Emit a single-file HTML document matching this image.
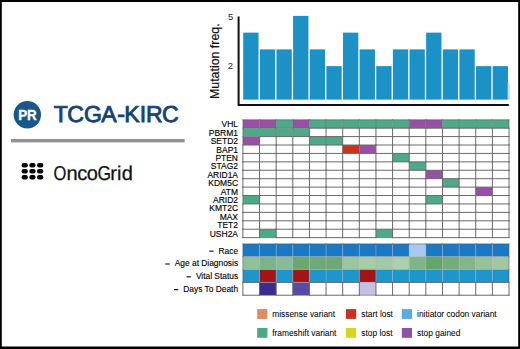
<!DOCTYPE html><html><head><meta charset="utf-8"><style>html,body{margin:0;padding:0;background:#fff;overflow:hidden}svg{display:block}text{font-family:"Liberation Sans",sans-serif}</style></head><body>
<svg width="520" height="349" viewBox="0 0 520 349">
<rect x="0" y="0" width="520" height="349" fill="#fff"/>
<rect x="243.20" y="32.64" width="15.33" height="66.96" fill="#1b91c6"/>
<rect x="259.83" y="49.38" width="15.33" height="50.22" fill="#1b91c6"/>
<rect x="276.46" y="49.38" width="15.33" height="50.22" fill="#1b91c6"/>
<rect x="293.09" y="15.90" width="15.33" height="83.70" fill="#1b91c6"/>
<rect x="309.73" y="49.38" width="15.33" height="50.22" fill="#1b91c6"/>
<rect x="326.36" y="66.12" width="15.33" height="33.48" fill="#1b91c6"/>
<rect x="342.99" y="32.64" width="15.33" height="66.96" fill="#1b91c6"/>
<rect x="359.62" y="49.38" width="15.33" height="50.22" fill="#1b91c6"/>
<rect x="376.25" y="66.12" width="15.33" height="33.48" fill="#1b91c6"/>
<rect x="392.88" y="49.38" width="15.33" height="50.22" fill="#1b91c6"/>
<rect x="409.51" y="49.38" width="15.33" height="50.22" fill="#1b91c6"/>
<rect x="426.14" y="32.64" width="15.33" height="66.96" fill="#1b91c6"/>
<rect x="442.78" y="49.38" width="15.33" height="50.22" fill="#1b91c6"/>
<rect x="459.41" y="49.38" width="15.33" height="50.22" fill="#1b91c6"/>
<rect x="476.04" y="66.12" width="15.33" height="33.48" fill="#1b91c6"/>
<rect x="492.67" y="66.12" width="15.33" height="33.48" fill="#1b91c6"/>
<rect x="507.60" y="82.86" width="2" height="16.74" fill="#b5dcee"/>
<path d="M238.6 16.5 V105 H508.8" fill="none" stroke="#111" stroke-width="2"/>
<text x="230.6" y="19.8" font-size="9.5" text-anchor="middle" fill="#222">5</text>
<text x="230.4" y="69.2" font-size="9.5" text-anchor="middle" fill="#222">2</text>
<text transform="translate(218.8,99.0) rotate(-90)" font-size="12.4" fill="#111" stroke="#111" stroke-width="0.2" textLength="75.6" lengthAdjust="spacingAndGlyphs">Mutation freq.</text>
<rect x="242.90" y="119.75" width="16.63" height="8.42" fill="#9a4fa6"/>
<rect x="259.53" y="119.75" width="16.63" height="8.42" fill="#9a4fa6"/>
<rect x="276.16" y="119.75" width="16.63" height="8.42" fill="#4da987"/>
<rect x="292.79" y="119.75" width="16.63" height="8.42" fill="#9a4fa6"/>
<rect x="309.43" y="119.75" width="16.63" height="8.42" fill="#4da987"/>
<rect x="326.06" y="119.75" width="16.63" height="8.42" fill="#4da987"/>
<rect x="342.69" y="119.75" width="16.63" height="8.42" fill="#4da987"/>
<rect x="359.32" y="119.75" width="16.63" height="8.42" fill="#4da987"/>
<rect x="375.95" y="119.75" width="16.63" height="8.42" fill="#4da987"/>
<rect x="392.58" y="119.75" width="16.63" height="8.42" fill="#4da987"/>
<rect x="409.21" y="119.75" width="16.63" height="8.42" fill="#9a4fa6"/>
<rect x="425.84" y="119.75" width="16.63" height="8.42" fill="#9a4fa6"/>
<rect x="442.48" y="119.75" width="16.63" height="8.42" fill="#4da987"/>
<rect x="459.11" y="119.75" width="16.63" height="8.42" fill="#4da987"/>
<rect x="475.74" y="119.75" width="16.63" height="8.42" fill="#4da987"/>
<rect x="492.37" y="119.75" width="16.63" height="8.42" fill="#4da987"/>
<rect x="242.90" y="128.17" width="16.63" height="8.42" fill="#4da987"/>
<rect x="259.53" y="128.17" width="16.63" height="8.42" fill="#4da987"/>
<rect x="276.16" y="128.17" width="16.63" height="8.42" fill="#4da987"/>
<rect x="292.79" y="128.17" width="16.63" height="8.42" fill="#4da987"/>
<rect x="242.90" y="136.59" width="16.63" height="8.42" fill="#9a4fa6"/>
<rect x="309.43" y="136.59" width="16.63" height="8.42" fill="#4da987"/>
<rect x="326.06" y="136.59" width="16.63" height="8.42" fill="#4da987"/>
<rect x="342.69" y="145.01" width="16.63" height="8.42" fill="#c9321d"/>
<rect x="359.32" y="145.01" width="16.63" height="8.42" fill="#9a4fa6"/>
<rect x="392.58" y="153.43" width="16.63" height="8.42" fill="#4da987"/>
<rect x="409.21" y="161.85" width="16.63" height="8.42" fill="#4da987"/>
<rect x="425.84" y="170.27" width="16.63" height="8.42" fill="#9a4fa6"/>
<rect x="442.48" y="178.69" width="16.63" height="8.42" fill="#4da987"/>
<rect x="475.74" y="187.11" width="16.63" height="8.42" fill="#9a4fa6"/>
<rect x="242.90" y="195.53" width="16.63" height="8.42" fill="#4da987"/>
<rect x="425.84" y="195.53" width="16.63" height="8.42" fill="#4da987"/>
<rect x="259.53" y="229.21" width="16.63" height="8.42" fill="#4da987"/>
<rect x="375.95" y="229.21" width="16.63" height="8.42" fill="#4da987"/>
<path d="M259.53 119.25v9.42M259.53 127.67v9.42M276.16 119.25v9.42M276.16 127.67v9.42M292.79 119.25v9.42M292.79 127.67v9.42M309.43 119.25v9.42M326.06 119.25v9.42M326.06 136.09v9.42M342.69 119.25v9.42M359.32 119.25v9.42M359.32 144.51v9.42M375.95 119.25v9.42M392.58 119.25v9.42M409.21 119.25v9.42M425.84 119.25v9.42M442.48 119.25v9.42M459.11 119.25v9.42M475.74 119.25v9.42M492.37 119.25v9.42M242.40 128.17h17.63M259.03 128.17h17.63M275.66 128.17h17.63M292.29 128.17h17.63M242.40 136.59h17.63" fill="none" stroke="#555" stroke-opacity="0.28" stroke-width="1"/>
<path d="M242.90 119.25v9.42M242.90 127.67v9.42M242.90 136.09v9.42M242.90 195.03v9.42M509.00 119.25v9.42M242.40 119.75h17.63M259.03 119.75h17.63M275.66 119.75h17.63M292.29 119.75h17.63M308.93 119.75h17.63M325.56 119.75h17.63M342.19 119.75h17.63M358.82 119.75h17.63M375.45 119.75h17.63M392.08 119.75h17.63M408.71 119.75h17.63M425.34 119.75h17.63M441.98 119.75h17.63M458.61 119.75h17.63M475.24 119.75h17.63M491.87 119.75h17.63M259.03 237.63h17.63M375.45 237.63h17.63" fill="none" stroke="#555" stroke-opacity="0.55" stroke-width="1"/>
<path d="M242.90 144.51v9.42M242.90 152.93v9.42M242.90 161.35v9.42M242.90 169.77v9.42M242.90 178.19v9.42M242.90 186.61v9.42M242.90 203.45v9.42M242.90 211.87v9.42M242.90 220.29v9.42M242.90 228.71v9.42M259.53 136.09v9.42M259.53 144.51v9.42M259.53 152.93v9.42M259.53 161.35v9.42M259.53 169.77v9.42M259.53 178.19v9.42M259.53 186.61v9.42M259.53 195.03v9.42M259.53 203.45v9.42M259.53 211.87v9.42M259.53 220.29v9.42M259.53 228.71v9.42M276.16 136.09v9.42M276.16 144.51v9.42M276.16 152.93v9.42M276.16 161.35v9.42M276.16 169.77v9.42M276.16 178.19v9.42M276.16 186.61v9.42M276.16 195.03v9.42M276.16 203.45v9.42M276.16 211.87v9.42M276.16 220.29v9.42M276.16 228.71v9.42M292.79 136.09v9.42M292.79 144.51v9.42M292.79 152.93v9.42M292.79 161.35v9.42M292.79 169.77v9.42M292.79 178.19v9.42M292.79 186.61v9.42M292.79 195.03v9.42M292.79 203.45v9.42M292.79 211.87v9.42M292.79 220.29v9.42M292.79 228.71v9.42M309.43 127.67v9.42M309.43 136.09v9.42M309.43 144.51v9.42M309.43 152.93v9.42M309.43 161.35v9.42M309.43 169.77v9.42M309.43 178.19v9.42M309.43 186.61v9.42M309.43 195.03v9.42M309.43 203.45v9.42M309.43 211.87v9.42M309.43 220.29v9.42M309.43 228.71v9.42M326.06 127.67v9.42M326.06 144.51v9.42M326.06 152.93v9.42M326.06 161.35v9.42M326.06 169.77v9.42M326.06 178.19v9.42M326.06 186.61v9.42M326.06 195.03v9.42M326.06 203.45v9.42M326.06 211.87v9.42M326.06 220.29v9.42M326.06 228.71v9.42M342.69 127.67v9.42M342.69 136.09v9.42M342.69 144.51v9.42M342.69 152.93v9.42M342.69 161.35v9.42M342.69 169.77v9.42M342.69 178.19v9.42M342.69 186.61v9.42M342.69 195.03v9.42M342.69 203.45v9.42M342.69 211.87v9.42M342.69 220.29v9.42M342.69 228.71v9.42M359.32 127.67v9.42M359.32 136.09v9.42M359.32 152.93v9.42M359.32 161.35v9.42M359.32 169.77v9.42M359.32 178.19v9.42M359.32 186.61v9.42M359.32 195.03v9.42M359.32 203.45v9.42M359.32 211.87v9.42M359.32 220.29v9.42M359.32 228.71v9.42M375.95 127.67v9.42M375.95 136.09v9.42M375.95 144.51v9.42M375.95 152.93v9.42M375.95 161.35v9.42M375.95 169.77v9.42M375.95 178.19v9.42M375.95 186.61v9.42M375.95 195.03v9.42M375.95 203.45v9.42M375.95 211.87v9.42M375.95 220.29v9.42M375.95 228.71v9.42M392.58 127.67v9.42M392.58 136.09v9.42M392.58 144.51v9.42M392.58 152.93v9.42M392.58 161.35v9.42M392.58 169.77v9.42M392.58 178.19v9.42M392.58 186.61v9.42M392.58 195.03v9.42M392.58 203.45v9.42M392.58 211.87v9.42M392.58 220.29v9.42M392.58 228.71v9.42M409.21 127.67v9.42M409.21 136.09v9.42M409.21 144.51v9.42M409.21 152.93v9.42M409.21 161.35v9.42M409.21 169.77v9.42M409.21 178.19v9.42M409.21 186.61v9.42M409.21 195.03v9.42M409.21 203.45v9.42M409.21 211.87v9.42M409.21 220.29v9.42M409.21 228.71v9.42M425.84 127.67v9.42M425.84 136.09v9.42M425.84 144.51v9.42M425.84 152.93v9.42M425.84 161.35v9.42M425.84 169.77v9.42M425.84 178.19v9.42M425.84 186.61v9.42M425.84 195.03v9.42M425.84 203.45v9.42M425.84 211.87v9.42M425.84 220.29v9.42M425.84 228.71v9.42M442.48 127.67v9.42M442.48 136.09v9.42M442.48 144.51v9.42M442.48 152.93v9.42M442.48 161.35v9.42M442.48 169.77v9.42M442.48 178.19v9.42M442.48 186.61v9.42M442.48 195.03v9.42M442.48 203.45v9.42M442.48 211.87v9.42M442.48 220.29v9.42M442.48 228.71v9.42M459.11 127.67v9.42M459.11 136.09v9.42M459.11 144.51v9.42M459.11 152.93v9.42M459.11 161.35v9.42M459.11 169.77v9.42M459.11 178.19v9.42M459.11 186.61v9.42M459.11 195.03v9.42M459.11 203.45v9.42M459.11 211.87v9.42M459.11 220.29v9.42M459.11 228.71v9.42M475.74 127.67v9.42M475.74 136.09v9.42M475.74 144.51v9.42M475.74 152.93v9.42M475.74 161.35v9.42M475.74 169.77v9.42M475.74 178.19v9.42M475.74 186.61v9.42M475.74 195.03v9.42M475.74 203.45v9.42M475.74 211.87v9.42M475.74 220.29v9.42M475.74 228.71v9.42M492.37 127.67v9.42M492.37 136.09v9.42M492.37 144.51v9.42M492.37 152.93v9.42M492.37 161.35v9.42M492.37 169.77v9.42M492.37 178.19v9.42M492.37 186.61v9.42M492.37 195.03v9.42M492.37 203.45v9.42M492.37 211.87v9.42M492.37 220.29v9.42M492.37 228.71v9.42M509.00 127.67v9.42M509.00 136.09v9.42M509.00 144.51v9.42M509.00 152.93v9.42M509.00 161.35v9.42M509.00 169.77v9.42M509.00 178.19v9.42M509.00 186.61v9.42M509.00 195.03v9.42M509.00 203.45v9.42M509.00 211.87v9.42M509.00 220.29v9.42M509.00 228.71v9.42M308.93 128.17h17.63M325.56 128.17h17.63M342.19 128.17h17.63M358.82 128.17h17.63M375.45 128.17h17.63M392.08 128.17h17.63M408.71 128.17h17.63M425.34 128.17h17.63M441.98 128.17h17.63M458.61 128.17h17.63M475.24 128.17h17.63M491.87 128.17h17.63M259.03 136.59h17.63M275.66 136.59h17.63M292.29 136.59h17.63M308.93 136.59h17.63M325.56 136.59h17.63M342.19 136.59h17.63M358.82 136.59h17.63M375.45 136.59h17.63M392.08 136.59h17.63M408.71 136.59h17.63M425.34 136.59h17.63M441.98 136.59h17.63M458.61 136.59h17.63M475.24 136.59h17.63M491.87 136.59h17.63M242.40 145.01h17.63M259.03 145.01h17.63M275.66 145.01h17.63M292.29 145.01h17.63M308.93 145.01h17.63M325.56 145.01h17.63M342.19 145.01h17.63M358.82 145.01h17.63M375.45 145.01h17.63M392.08 145.01h17.63M408.71 145.01h17.63M425.34 145.01h17.63M441.98 145.01h17.63M458.61 145.01h17.63M475.24 145.01h17.63M491.87 145.01h17.63M242.40 153.43h17.63M259.03 153.43h17.63M275.66 153.43h17.63M292.29 153.43h17.63M308.93 153.43h17.63M325.56 153.43h17.63M342.19 153.43h17.63M358.82 153.43h17.63M375.45 153.43h17.63M392.08 153.43h17.63M408.71 153.43h17.63M425.34 153.43h17.63M441.98 153.43h17.63M458.61 153.43h17.63M475.24 153.43h17.63M491.87 153.43h17.63M242.40 161.85h17.63M259.03 161.85h17.63M275.66 161.85h17.63M292.29 161.85h17.63M308.93 161.85h17.63M325.56 161.85h17.63M342.19 161.85h17.63M358.82 161.85h17.63M375.45 161.85h17.63M392.08 161.85h17.63M408.71 161.85h17.63M425.34 161.85h17.63M441.98 161.85h17.63M458.61 161.85h17.63M475.24 161.85h17.63M491.87 161.85h17.63M242.40 170.27h17.63M259.03 170.27h17.63M275.66 170.27h17.63M292.29 170.27h17.63M308.93 170.27h17.63M325.56 170.27h17.63M342.19 170.27h17.63M358.82 170.27h17.63M375.45 170.27h17.63M392.08 170.27h17.63M408.71 170.27h17.63M425.34 170.27h17.63M441.98 170.27h17.63M458.61 170.27h17.63M475.24 170.27h17.63M491.87 170.27h17.63M242.40 178.69h17.63M259.03 178.69h17.63M275.66 178.69h17.63M292.29 178.69h17.63M308.93 178.69h17.63M325.56 178.69h17.63M342.19 178.69h17.63M358.82 178.69h17.63M375.45 178.69h17.63M392.08 178.69h17.63M408.71 178.69h17.63M425.34 178.69h17.63M441.98 178.69h17.63M458.61 178.69h17.63M475.24 178.69h17.63M491.87 178.69h17.63M242.40 187.11h17.63M259.03 187.11h17.63M275.66 187.11h17.63M292.29 187.11h17.63M308.93 187.11h17.63M325.56 187.11h17.63M342.19 187.11h17.63M358.82 187.11h17.63M375.45 187.11h17.63M392.08 187.11h17.63M408.71 187.11h17.63M425.34 187.11h17.63M441.98 187.11h17.63M458.61 187.11h17.63M475.24 187.11h17.63M491.87 187.11h17.63M242.40 195.53h17.63M259.03 195.53h17.63M275.66 195.53h17.63M292.29 195.53h17.63M308.93 195.53h17.63M325.56 195.53h17.63M342.19 195.53h17.63M358.82 195.53h17.63M375.45 195.53h17.63M392.08 195.53h17.63M408.71 195.53h17.63M425.34 195.53h17.63M441.98 195.53h17.63M458.61 195.53h17.63M475.24 195.53h17.63M491.87 195.53h17.63M242.40 203.95h17.63M259.03 203.95h17.63M275.66 203.95h17.63M292.29 203.95h17.63M308.93 203.95h17.63M325.56 203.95h17.63M342.19 203.95h17.63M358.82 203.95h17.63M375.45 203.95h17.63M392.08 203.95h17.63M408.71 203.95h17.63M425.34 203.95h17.63M441.98 203.95h17.63M458.61 203.95h17.63M475.24 203.95h17.63M491.87 203.95h17.63M242.40 212.37h17.63M259.03 212.37h17.63M275.66 212.37h17.63M292.29 212.37h17.63M308.93 212.37h17.63M325.56 212.37h17.63M342.19 212.37h17.63M358.82 212.37h17.63M375.45 212.37h17.63M392.08 212.37h17.63M408.71 212.37h17.63M425.34 212.37h17.63M441.98 212.37h17.63M458.61 212.37h17.63M475.24 212.37h17.63M491.87 212.37h17.63M242.40 220.79h17.63M259.03 220.79h17.63M275.66 220.79h17.63M292.29 220.79h17.63M308.93 220.79h17.63M325.56 220.79h17.63M342.19 220.79h17.63M358.82 220.79h17.63M375.45 220.79h17.63M392.08 220.79h17.63M408.71 220.79h17.63M425.34 220.79h17.63M441.98 220.79h17.63M458.61 220.79h17.63M475.24 220.79h17.63M491.87 220.79h17.63M242.40 229.21h17.63M259.03 229.21h17.63M275.66 229.21h17.63M292.29 229.21h17.63M308.93 229.21h17.63M325.56 229.21h17.63M342.19 229.21h17.63M358.82 229.21h17.63M375.45 229.21h17.63M392.08 229.21h17.63M408.71 229.21h17.63M425.34 229.21h17.63M441.98 229.21h17.63M458.61 229.21h17.63M475.24 229.21h17.63M491.87 229.21h17.63M242.40 237.63h17.63M275.66 237.63h17.63M292.29 237.63h17.63M308.93 237.63h17.63M325.56 237.63h17.63M342.19 237.63h17.63M358.82 237.63h17.63M392.08 237.63h17.63M408.71 237.63h17.63M425.34 237.63h17.63M441.98 237.63h17.63M458.61 237.63h17.63M475.24 237.63h17.63M491.87 237.63h17.63" fill="none" stroke="#6a6a6a" stroke-width="1"/>
<g transform="translate(238.0,0) scale(0.975,1)" font-size="8.7" text-anchor="end" fill="#000" stroke="#000" stroke-width="0.15">
<text x="0" y="127.27">VHL</text>
<text x="0" y="135.69">PBRM1</text>
<text x="0" y="144.11">SETD2</text>
<text x="0" y="152.53">BAP1</text>
<text x="0" y="160.95">PTEN</text>
<text x="0" y="169.37">STAG2</text>
<text x="0" y="177.79">ARID1A</text>
<text x="0" y="186.21">KDM5C</text>
<text x="0" y="194.63">ATM</text>
<text x="0" y="203.05">ARID2</text>
<text x="0" y="211.47">KMT2C</text>
<text x="0" y="219.89">MAX</text>
<text x="0" y="228.31">TET2</text>
<text x="0" y="236.73">USH2A</text>
</g>
<rect x="242.90" y="243.90" width="16.63" height="12.83" fill="#1b78c2"/>
<rect x="259.53" y="243.90" width="16.63" height="12.83" fill="#1b78c2"/>
<rect x="276.16" y="243.90" width="16.63" height="12.83" fill="#1b78c2"/>
<rect x="292.79" y="243.90" width="16.63" height="12.83" fill="#1b78c2"/>
<rect x="309.43" y="243.90" width="16.63" height="12.83" fill="#1b78c2"/>
<rect x="326.06" y="243.90" width="16.63" height="12.83" fill="#1b78c2"/>
<rect x="342.69" y="243.90" width="16.63" height="12.83" fill="#1b78c2"/>
<rect x="359.32" y="243.90" width="16.63" height="12.83" fill="#1b78c2"/>
<rect x="375.95" y="243.90" width="16.63" height="12.83" fill="#1b78c2"/>
<rect x="392.58" y="243.90" width="16.63" height="12.83" fill="#1b78c2"/>
<rect x="409.21" y="243.90" width="16.63" height="12.83" fill="#a9c9f0"/>
<rect x="425.84" y="243.90" width="16.63" height="12.83" fill="#1b78c2"/>
<rect x="442.48" y="243.90" width="16.63" height="12.83" fill="#1b78c2"/>
<rect x="459.11" y="243.90" width="16.63" height="12.83" fill="#1b78c2"/>
<rect x="475.74" y="243.90" width="16.63" height="12.83" fill="#1b78c2"/>
<rect x="492.37" y="243.90" width="16.63" height="12.83" fill="#1b78c2"/>
<rect x="242.90" y="256.73" width="16.63" height="12.83" fill="#90c09c"/>
<rect x="259.53" y="256.73" width="16.63" height="12.83" fill="#7ab58a"/>
<rect x="276.16" y="256.73" width="16.63" height="12.83" fill="#88bc96"/>
<rect x="292.79" y="256.73" width="16.63" height="12.83" fill="#6aa772"/>
<rect x="309.43" y="256.73" width="16.63" height="12.83" fill="#6fa978"/>
<rect x="326.06" y="256.73" width="16.63" height="12.83" fill="#6da876"/>
<rect x="342.69" y="256.73" width="16.63" height="12.83" fill="#9cc6a2"/>
<rect x="359.32" y="256.73" width="16.63" height="12.83" fill="#a6cca8"/>
<rect x="375.95" y="256.73" width="16.63" height="12.83" fill="#a2caa6"/>
<rect x="392.58" y="256.73" width="16.63" height="12.83" fill="#aad0ac"/>
<rect x="409.21" y="256.73" width="16.63" height="12.83" fill="#7eb486"/>
<rect x="425.84" y="256.73" width="16.63" height="12.83" fill="#66a56a"/>
<rect x="442.48" y="256.73" width="16.63" height="12.83" fill="#74ac7a"/>
<rect x="459.11" y="256.73" width="16.63" height="12.83" fill="#84b68a"/>
<rect x="475.74" y="256.73" width="16.63" height="12.83" fill="#96c29a"/>
<rect x="492.37" y="256.73" width="16.63" height="12.83" fill="#a2c8a2"/>
<rect x="242.90" y="269.56" width="16.63" height="12.83" fill="#1c96cb"/>
<rect x="259.53" y="269.56" width="16.63" height="12.83" fill="#a41414"/>
<rect x="276.16" y="269.56" width="16.63" height="12.83" fill="#1c96cb"/>
<rect x="292.79" y="269.56" width="16.63" height="12.83" fill="#a41414"/>
<rect x="309.43" y="269.56" width="16.63" height="12.83" fill="#1c96cb"/>
<rect x="326.06" y="269.56" width="16.63" height="12.83" fill="#1c96cb"/>
<rect x="342.69" y="269.56" width="16.63" height="12.83" fill="#1c96cb"/>
<rect x="359.32" y="269.56" width="16.63" height="12.83" fill="#a41414"/>
<rect x="375.95" y="269.56" width="16.63" height="12.83" fill="#1c96cb"/>
<rect x="392.58" y="269.56" width="16.63" height="12.83" fill="#1c96cb"/>
<rect x="409.21" y="269.56" width="16.63" height="12.83" fill="#1c96cb"/>
<rect x="425.84" y="269.56" width="16.63" height="12.83" fill="#1c96cb"/>
<rect x="442.48" y="269.56" width="16.63" height="12.83" fill="#1c96cb"/>
<rect x="459.11" y="269.56" width="16.63" height="12.83" fill="#1c96cb"/>
<rect x="475.74" y="269.56" width="16.63" height="12.83" fill="#1c96cb"/>
<rect x="492.37" y="269.56" width="16.63" height="12.83" fill="#1c96cb"/>
<rect x="259.53" y="282.39" width="16.63" height="12.83" fill="#3b2b8e"/>
<rect x="292.79" y="282.39" width="16.63" height="12.83" fill="#5a4aa8"/>
<rect x="359.32" y="282.39" width="16.63" height="12.83" fill="#c5c0e8"/>
<path d="M259.53 243.40v13.83M259.53 256.23v13.83M259.53 269.06v13.83M276.16 243.40v13.83M276.16 256.23v13.83M276.16 269.06v13.83M292.79 243.40v13.83M292.79 256.23v13.83M292.79 269.06v13.83M309.43 243.40v13.83M309.43 256.23v13.83M309.43 269.06v13.83M326.06 243.40v13.83M326.06 256.23v13.83M326.06 269.06v13.83M342.69 243.40v13.83M342.69 256.23v13.83M342.69 269.06v13.83M359.32 243.40v13.83M359.32 256.23v13.83M359.32 269.06v13.83M375.95 243.40v13.83M375.95 256.23v13.83M375.95 269.06v13.83M392.58 243.40v13.83M392.58 256.23v13.83M392.58 269.06v13.83M409.21 243.40v13.83M409.21 256.23v13.83M409.21 269.06v13.83M425.84 243.40v13.83M425.84 256.23v13.83M425.84 269.06v13.83M442.48 243.40v13.83M442.48 256.23v13.83M442.48 269.06v13.83M459.11 243.40v13.83M459.11 256.23v13.83M459.11 269.06v13.83M475.74 243.40v13.83M475.74 256.23v13.83M475.74 269.06v13.83M492.37 243.40v13.83M492.37 256.23v13.83M492.37 269.06v13.83M242.40 256.73h17.63M259.03 256.73h17.63M275.66 256.73h17.63M292.29 256.73h17.63M308.93 256.73h17.63M325.56 256.73h17.63M342.19 256.73h17.63M358.82 256.73h17.63M375.45 256.73h17.63M392.08 256.73h17.63M408.71 256.73h17.63M425.34 256.73h17.63M441.98 256.73h17.63M458.61 256.73h17.63M475.24 256.73h17.63M491.87 256.73h17.63M242.40 269.56h17.63M259.03 269.56h17.63M275.66 269.56h17.63M292.29 269.56h17.63M308.93 269.56h17.63M325.56 269.56h17.63M342.19 269.56h17.63M358.82 269.56h17.63M375.45 269.56h17.63M392.08 269.56h17.63M408.71 269.56h17.63M425.34 269.56h17.63M441.98 269.56h17.63M458.61 269.56h17.63M475.24 269.56h17.63M491.87 269.56h17.63M259.03 282.39h17.63M292.29 282.39h17.63M358.82 282.39h17.63" fill="none" stroke="#a8b0b8" stroke-opacity="0.5" stroke-width="1"/>
<path d="M242.90 243.40v13.83M242.90 256.23v13.83M242.90 269.06v13.83M509.00 243.40v13.83M509.00 256.23v13.83M509.00 269.06v13.83M242.40 243.90h17.63M259.03 243.90h17.63M275.66 243.90h17.63M292.29 243.90h17.63M308.93 243.90h17.63M325.56 243.90h17.63M342.19 243.90h17.63M358.82 243.90h17.63M375.45 243.90h17.63M392.08 243.90h17.63M408.71 243.90h17.63M425.34 243.90h17.63M441.98 243.90h17.63M458.61 243.90h17.63M475.24 243.90h17.63M491.87 243.90h17.63M259.03 295.22h17.63M292.29 295.22h17.63M358.82 295.22h17.63" fill="none" stroke="#555" stroke-opacity="0.55" stroke-width="1"/>
<path d="M242.90 281.89v13.83M259.53 281.89v13.83M276.16 281.89v13.83M292.79 281.89v13.83M309.43 281.89v13.83M326.06 281.89v13.83M342.69 281.89v13.83M359.32 281.89v13.83M375.95 281.89v13.83M392.58 281.89v13.83M409.21 281.89v13.83M425.84 281.89v13.83M442.48 281.89v13.83M459.11 281.89v13.83M475.74 281.89v13.83M492.37 281.89v13.83M509.00 281.89v13.83M242.40 282.39h17.63M275.66 282.39h17.63M308.93 282.39h17.63M325.56 282.39h17.63M342.19 282.39h17.63M375.45 282.39h17.63M392.08 282.39h17.63M408.71 282.39h17.63M425.34 282.39h17.63M441.98 282.39h17.63M458.61 282.39h17.63M475.24 282.39h17.63M491.87 282.39h17.63M242.40 295.22h17.63M275.66 295.22h17.63M308.93 295.22h17.63M325.56 295.22h17.63M342.19 295.22h17.63M375.45 295.22h17.63M392.08 295.22h17.63M408.71 295.22h17.63M425.34 295.22h17.63M441.98 295.22h17.63M458.61 295.22h17.63M475.24 295.22h17.63M491.87 295.22h17.63" fill="none" stroke="#6a6a6a" stroke-width="1"/>
<text x="238.1" y="253.51" font-size="8.4" text-anchor="end" fill="#000" stroke="#000" stroke-width="0.12">Race</text>
<rect x="209.29" y="250.61" width="4.3" height="1.1" fill="#000"/>
<text x="238.1" y="266.35" font-size="8.4" text-anchor="end" fill="#000" stroke="#000" stroke-width="0.12">Age at Diagnosis</text>
<rect x="165.39" y="263.45" width="4.3" height="1.1" fill="#000"/>
<text x="238.1" y="279.18" font-size="8.4" text-anchor="end" fill="#000" stroke="#000" stroke-width="0.12">Vital Status</text>
<rect x="186.56" y="276.28" width="4.3" height="1.1" fill="#000"/>
<text x="238.1" y="292.00" font-size="8.4" text-anchor="end" fill="#000" stroke="#000" stroke-width="0.12">Days To Death</text>
<rect x="173.96" y="289.11" width="4.3" height="1.1" fill="#000"/>
<rect x="257.2" y="309.1" width="10.2" height="9.8" fill="#e08a62"/>
<text x="272.2" y="316.9" font-size="8.4" fill="#000" stroke="#000" stroke-width="0.05">missense variant</text>
<rect x="257.2" y="328" width="10.2" height="9.8" fill="#4aa882"/>
<text x="272.2" y="335.8" font-size="8.4" fill="#000" stroke="#000" stroke-width="0.05">frameshift variant</text>
<rect x="346.0" y="309.1" width="10.2" height="9.8" fill="#c93220"/>
<text x="361.3" y="316.9" font-size="8.4" fill="#000" stroke="#000" stroke-width="0.05">start lost</text>
<rect x="346.0" y="328" width="10.2" height="9.8" fill="#d6d622"/>
<text x="361.3" y="335.8" font-size="8.4" fill="#000" stroke="#000" stroke-width="0.05">stop lost</text>
<rect x="401.8" y="309.1" width="10.2" height="9.8" fill="#5aaae2"/>
<text x="417.1" y="316.9" font-size="8.4" fill="#000" stroke="#000" stroke-width="0.05">initiator codon variant</text>
<rect x="401.8" y="328" width="10.2" height="9.8" fill="#9150a8"/>
<text x="417.1" y="335.8" font-size="8.4" fill="#000" stroke="#000" stroke-width="0.05">stop gained</text>
<circle cx="27.35" cy="114.8" r="13.7" fill="#18588f"/>
<text x="27.5" y="119.9" font-size="14.2" font-weight="bold" text-anchor="middle" fill="#fff" stroke="#fff" stroke-width="0.3" textLength="18.6" lengthAdjust="spacingAndGlyphs">PR</text>
<text x="53.71 67.30 83.98 101.28 117.17 124.31 139.75 146.08 162.10" y="121.7" font-size="23" fill="#134274" text-rendering="geometricPrecision" stroke="#134274" stroke-width="0.85" stroke-linejoin="miter">TCGA-KIRC</text>
<rect x="11" y="139.0" width="173.7" height="3.4" fill="#929292"/>
<rect x="21.60" y="162.90" width="6.2" height="4.7" rx="2.1" ry="2.1" fill="#000"/>
<rect x="29.35" y="162.90" width="6.2" height="4.7" rx="2.1" ry="2.1" fill="#000"/>
<rect x="37.10" y="162.90" width="6.2" height="4.7" rx="2.1" ry="2.1" fill="#000"/>
<rect x="21.60" y="168.90" width="6.2" height="4.7" rx="2.1" ry="2.1" fill="#000"/>
<rect x="29.35" y="168.90" width="6.2" height="4.7" rx="2.1" ry="2.1" fill="#000"/>
<rect x="37.10" y="168.90" width="6.2" height="4.7" rx="2.1" ry="2.1" fill="#000"/>
<rect x="21.60" y="174.90" width="6.2" height="4.7" rx="2.1" ry="2.1" fill="#000"/>
<rect x="29.35" y="174.90" width="6.2" height="4.7" rx="2.1" ry="2.1" fill="#000"/>
<rect x="37.10" y="174.90" width="6.2" height="4.7" rx="2.1" ry="2.1" fill="#000"/>
<text transform="translate(53.38,179.7) scale(0.824,1)" font-size="20" fill="#111" text-rendering="geometricPrecision" stroke="#111" stroke-width="0.25">O</text>
<text transform="translate(97.43,179.7) scale(0.872,1)" font-size="20" fill="#111" text-rendering="geometricPrecision" stroke="#111" stroke-width="0.25">G</text>
<text x="66.42 77.17 86.68" y="179.7" font-size="20" fill="#111" text-rendering="geometricPrecision" stroke="#111" stroke-width="0.25">nco</text>
<text x="110.27 117.04 121.66" y="179.7" font-size="20" fill="#111" text-rendering="geometricPrecision" stroke="#111" stroke-width="0.25">rid</text>
<path d="M0 0H520V349H0Z M1.8 2H518.2V346.5H1.8Z" fill="#000" fill-rule="evenodd"/>
</svg></body></html>
